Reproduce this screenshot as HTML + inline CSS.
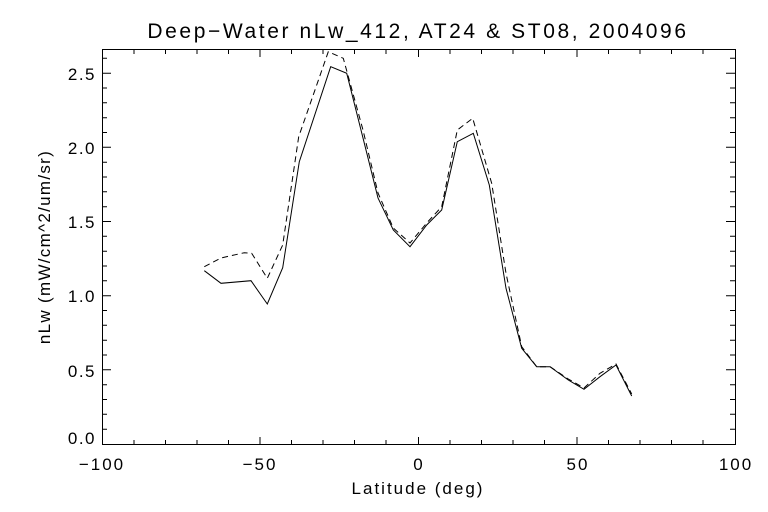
<!DOCTYPE html>
<html><head><style>body{margin:0;background:#fff}svg{display:block}text{font-family:"Liberation Sans",sans-serif;fill:#000}</style></head><body>
<svg width="768" height="512" viewBox="0 0 768 512">
<rect width="768" height="512" fill="#fff"/>
<g stroke="#000" stroke-width="1" fill="none">
<rect x="102.5" y="49.5" width="633" height="395"/>
<path d="M102.5 444v-7M134 444v-4M165.5 444v-4M197 444v-4M228.5 444v-4M260 444v-7M291.5 444v-4M323 444v-4M354.5 444v-4M386 444v-4M418.5 444v-7M450 444v-4M481.5 444v-4M513 444v-4M544.5 444v-4M577 444v-7M608.5 444v-4M640 444v-4M671.5 444v-4M703 444v-4"/>
<path d="M102.5 50v7M134 50v4M165.5 50v4M197 50v4M228.5 50v4M260 50v7M291.5 50v4M323 50v4M354.5 50v4M386 50v4M418.5 50v7M450 50v4M481.5 50v4M513 50v4M544.5 50v4M577 50v7M608.5 50v4M640 50v4M671.5 50v4M703 50v4"/>
<path d="M102 429.2h5M102 414.3h5M102 399.5h5M102 384.7h5M102 369.8h9M102 355h5M102 340.2h5M102 325.3h5M102 310.5h5M102 295.7h9M102 280.8h5M102 266h5M102 251.2h5M102 236.3h5M102 221.5h9M102 206.7h5M102 191.8h5M102 177h5M102 162.2h5M102 147.3h9M102 132.5h5M102 117.7h5M102 102.8h5M102 88h5M102 73.2h9M102 58.3h5"/>
<path d="M735 429.2h-5M735 414.3h-5M735 399.5h-5M735 384.7h-5M735 369.8h-9M735 355h-5M735 340.2h-5M735 325.3h-5M735 310.5h-5M735 295.7h-9M735 280.8h-5M735 266h-5M735 251.2h-5M735 236.3h-5M735 221.5h-9M735 206.7h-5M735 191.8h-5M735 177h-5M735 162.2h-5M735 147.3h-9M735 132.5h-5M735 117.7h-5M735 102.8h-5M735 88h-5M735 73.2h-9M735 58.3h-5"/>
<polyline points="204.3,270.7 221,283.3 251,280.7 267.3,304 282.7,267.7 299.3,161.7 330.7,66.7 346.7,73.3 363,138 378,198 393.3,230 410,246.7 426.7,225 441.7,210 457.3,141.7 473.3,133.3 489.3,185 506,288.3 521.7,348.3 536.7,366.7 550,366.7 568.3,380 584,389.3 600,376.7 616,365 631.7,396"/>
<polyline stroke-dasharray="6,4" points="204.3,266.7 221,258 244.3,252.7 251.7,253.3 267.3,278.3 282.7,245 298.7,136.7 328.3,51.7 343.3,58.3 363,130 378,193 393.3,228 410,243 426.7,223 441.7,206.7 457.3,130 472.7,118.3 491.7,183.3 506,273.3 521.7,346.7 536.7,366.7 550,366.7 568.3,379 584,388 600,373.3 616,364 631.7,394"/>
</g>
<g font-size="17" text-anchor="middle" letter-spacing="2">
<text x="102" y="470">−100</text><text x="260" y="470">−50</text><text x="419" y="470">0</text><text x="578" y="470">50</text><text x="736" y="470">100</text>
</g>
<g font-size="17" text-anchor="end" letter-spacing="1.5">
<text x="96" y="444">0.0</text><text x="96" y="377">0.5</text><text x="96" y="302">1.0</text><text x="96" y="228">1.5</text><text x="96" y="154">2.0</text><text x="96" y="80">2.5</text>
</g>
<text x="418" y="494" font-size="17" text-anchor="middle" letter-spacing="2">Latitude (deg)</text>
<text transform="translate(50,247) rotate(-90)" font-size="17" text-anchor="middle" letter-spacing="1.3">nLw (mW/cm^2/um/sr)</text>
<text x="418" y="38" font-size="21" text-anchor="middle" letter-spacing="2.6">Deep−Water nLw_412, AT24 &amp; ST08, 2004096</text>
</svg>
</body></html>
